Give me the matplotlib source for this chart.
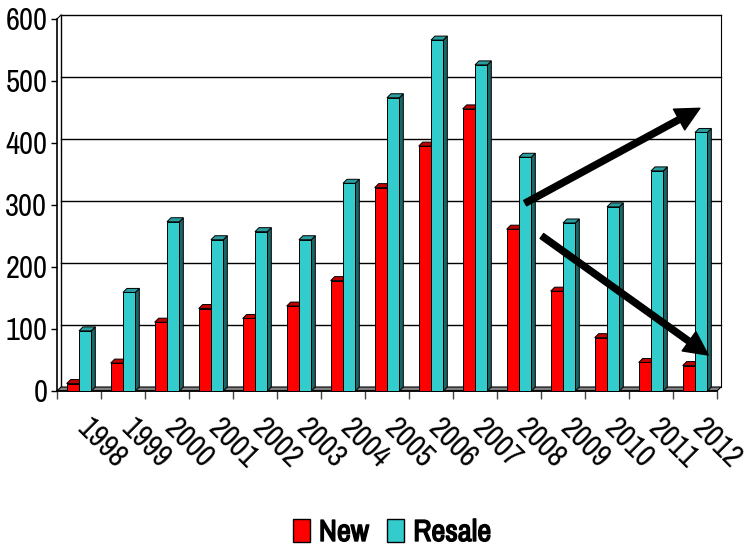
import matplotlib
matplotlib.use("Agg")
import matplotlib.pyplot as plt
import matplotlib.patheffects as pe
from matplotlib.patches import Polygon, Rectangle, Patch

plt.rcParams['font.family'] = ['Archivo Narrow', 'DejaVu Sans']

years = ['1998', '1999', '2000', '2001', '2002', '2003', '2004', '2005',
         '2006', '2007', '2008', '2009', '2010', '2011', '2012']
new_sales = [12, 45, 111, 133, 117, 137, 178, 328, 395, 455, 261, 161, 86, 46, 41]
resale = [97, 159, 273, 244, 257, 244, 335, 473, 566, 526, 377, 271, 297, 355, 417]

RED, RED_TOP, RED_SIDE = '#FF0000', '#C00000', '#800000'
TEAL, TEAL_TOP, TEAL_SIDE = '#33CCCC', '#2A9E9E', '#1D6464'

fig = plt.figure(figsize=(7.48, 5.51), dpi=100)
ax = fig.add_axes([57 / 748, 160 / 551, 660 / 748, 372 / 551])
n = len(years)
ax.set_xlim(0, n)
ax.set_ylim(0, 600)

# depth offset of the 3d look, in data units (about 4 px each way)
dx = 4 / 44
dy = 4 / 0.62

for s in ax.spines.values():
    s.set_visible(False)

# back wall with gridlines
ax.add_patch(Rectangle((dx, dy), n, 600, facecolor='white', edgecolor='none', zorder=0))
for v in range(100, 601, 100):
    ax.plot([dx, n + dx], [v + dy, v + dy], color='black', lw=1.0, zorder=1, clip_on=False)
ax.plot([n + dx, n + dx], [dy, 600 + dy], color='black', lw=0.8, zorder=1, clip_on=False)

# left wall
ax.plot([0, 0], [0, 600], color='black', lw=1.2, zorder=1, clip_on=False)
ax.plot([dx, dx], [dy, 600 + dy], color='black', lw=1.0, zorder=1, clip_on=False)
ax.plot([0, dx], [600, 600 + dy], color='black', lw=0.8, zorder=1, clip_on=False)

# floor
ax.add_patch(Polygon([(0, 0), (n, 0), (n + dx, dy), (dx, dy)], closed=True,
                     facecolor='#808080', edgecolor='black', lw=0.8, zorder=2, clip_on=False))


def bar3d(x0, w, v, front, top, side, z):
    x1 = x0 + w
    ax.add_patch(Polygon([(x1, 0), (x1 + dx, dy), (x1 + dx, v + dy), (x1, v)], closed=True,
                         facecolor=side, edgecolor='black', lw=0.7, zorder=z, clip_on=False))
    ax.add_patch(Polygon([(x0, v), (x1, v), (x1 + dx, v + dy), (x0 + dx, v + dy)], closed=True,
                         facecolor=top, edgecolor='black', lw=0.7, zorder=z, clip_on=False))
    ax.bar(x0, v, width=w, align='edge', color=front, edgecolor='black', lw=0.7,
           zorder=z + 0.1, clip_on=False)


bw = 0.28
for i in range(n):
    bar3d(i + 0.22, bw, new_sales[i], RED, RED_TOP, RED_SIDE, 3 + i)
    bar3d(i + 0.22 + bw, bw, resale[i], TEAL, TEAL_TOP, TEAL_SIDE, 3.5 + i)

# axes ticks
ax.set_yticks(range(0, 601, 100))
ax.set_yticklabels([str(v) for v in range(0, 601, 100)], fontsize=22)
ax.tick_params(axis='y', length=4, width=1, pad=3)
ax.set_xticks(range(0, n + 1))
ax.set_xticklabels([])
ax.tick_params(axis='x', length=6, width=1, color='#444444')
ax.plot([0, n], [0, 0], color='black', lw=1.2, zorder=2.5, clip_on=False)

for i, y in enumerate(years):
    ax.text(i + 0.5 + 0.28, -0.06, y, transform=ax.get_xaxis_transform(),
            rotation=-45, rotation_mode='anchor', ha='left', va='top', fontsize=22)

# trend arrows
arrow_style = 'simple,head_length=0.85,head_width=0.85,tail_width=0.22'
ax.annotate('', xy=(14.61, 456), xytext=(10.64, 303),
            arrowprops=dict(arrowstyle=arrow_style, color='black', mutation_scale=20,
                            shrinkA=0, shrinkB=0), zorder=50)
ax.annotate('', xy=(14.8, 58), xytext=(11.02, 250),
            arrowprops=dict(arrowstyle=arrow_style, color='black', mutation_scale=20,
                            shrinkA=0, shrinkB=0), zorder=50)

handles = [Patch(facecolor=RED, edgecolor='black', lw=1),
           Patch(facecolor=TEAL, edgecolor='black', lw=1)]
leg = fig.legend(handles, ['New', 'Resale'], loc='center', bbox_to_anchor=(392 / 748, 19 / 551),
                 ncol=2, frameon=False, prop={'size': 22},
                 handlelength=0.55, handleheight=0.75, handletextpad=0.3, columnspacing=0.6)
# the narrow face has no bold cut here, so thicken the strokes
for t in leg.get_texts():
    t.set_path_effects([pe.withStroke(linewidth=1.0, foreground='black')])

fig.savefig('out.png', dpi=100)
